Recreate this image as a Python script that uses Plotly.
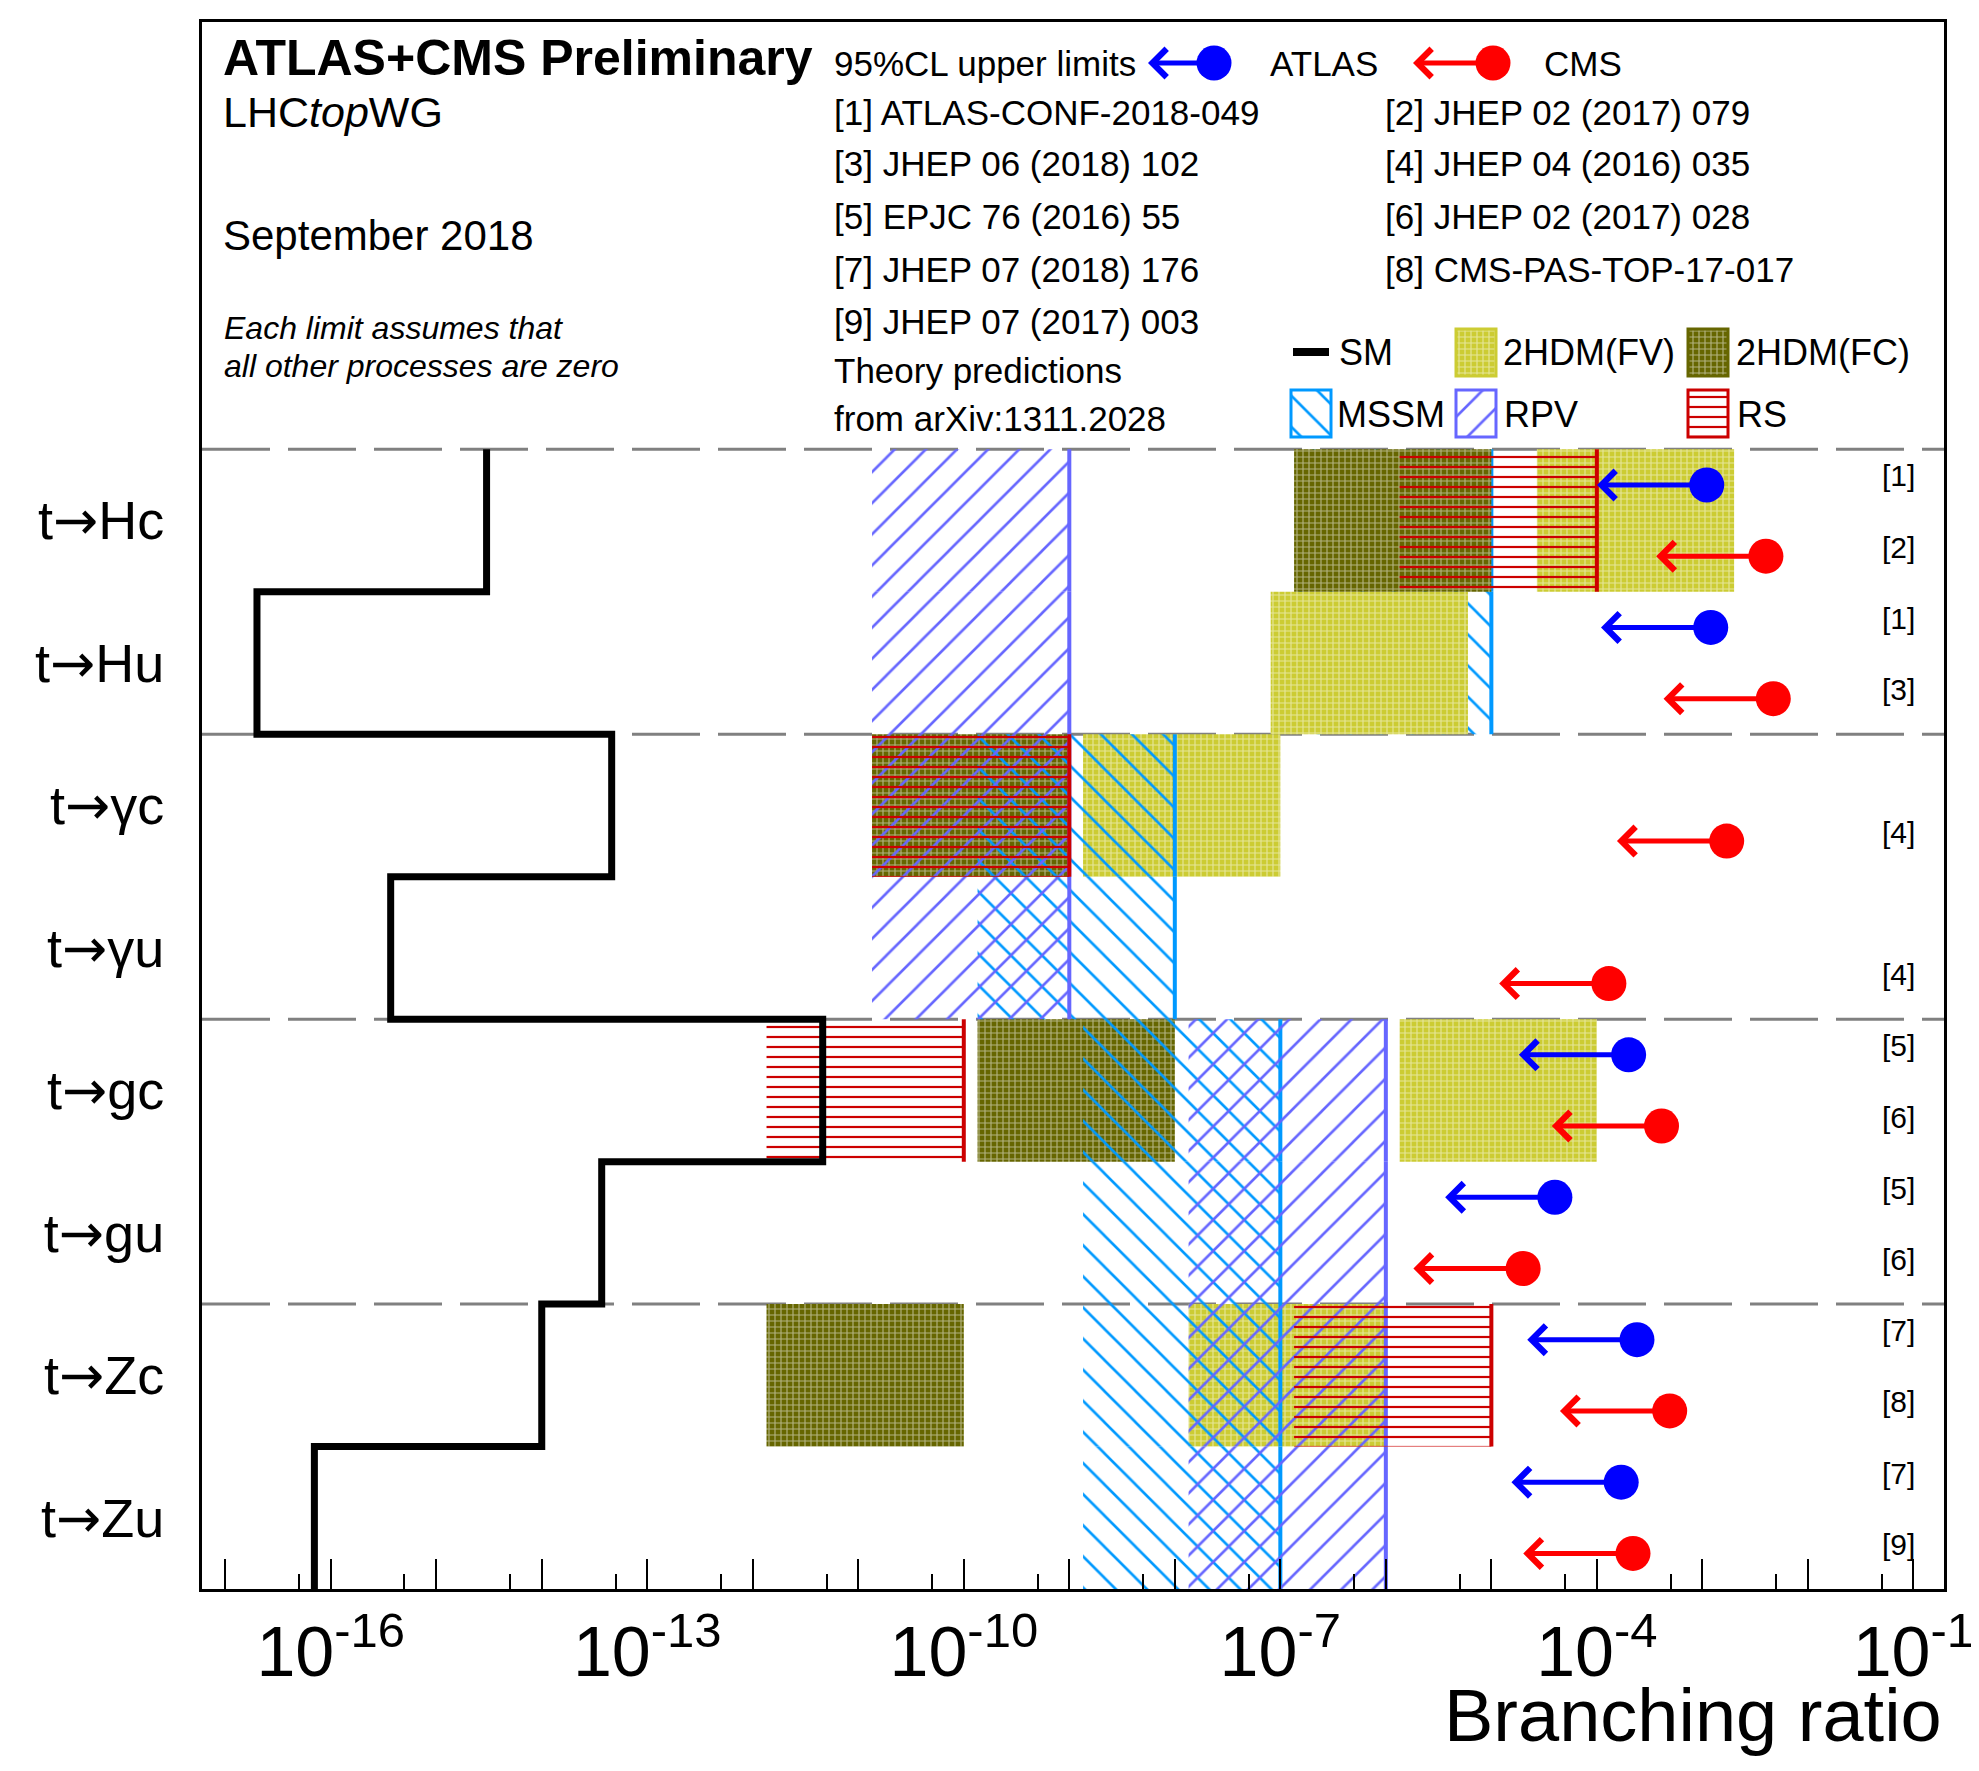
import plotly.graph_objects as go
import math

# ---------------- data ----------------
processes = ["t→Hc", "t→Hu", "t→γc", "t→γu", "t→gc", "t→gu", "t→Zc", "t→Zu"]
sm_values = [3e-15, 2e-17, 4.6e-14, 3.7e-16, 4.6e-12, 3.7e-14, 1e-14, 7e-17]

fv_proc = ["t→Hc", "t→Hu", "t→γc", "t→gc", "t→Zc"]
fv_low = [2.7e-5, 8.1e-8, 1.35e-9, 1.35e-6, 1.35e-8]
fv_high = [2e-3, 6e-6, 1e-7, 1e-4, 1e-6]

fc_proc = ["t→Hc", "t→γc", "t→gc", "t→Zc"]
fc_low = [1.35e-7, 1.35e-11, 1.35e-10, 1.35e-12]
fc_high = [1e-5, 1e-9, 1e-8, 1e-10]

mssm_proc = ["t→Hc", "t→Hu", "t→γc", "t→γu", "t→gc", "t→gu", "t→Zc", "t→Zu"]
mssm_low = [1.35e-7, 1.35e-7, 1.35e-10, 1.35e-10, 1.35e-9, 1.35e-9, 1.35e-9, 1.35e-9]
mssm_high = [1e-5, 1e-5, 1e-8, 1e-8, 1e-7, 1e-7, 1e-7, 1e-7]

rpv_proc = ["t→Hc", "t→Hu", "t→γc", "t→γu", "t→gc", "t→gu", "t→Zc", "t→Zu"]
rpv_low = [1.35e-11, 1.35e-11, 1.35e-11, 1.35e-11, 1.35e-8, 1.35e-8, 1.35e-8, 1.35e-8]
rpv_high = [1e-9, 1e-9, 1e-9, 1e-9, 1e-6, 1e-6, 1e-6, 1e-6]

rs_proc = ["t→Hc", "t→γc", "t→gc", "t→Zc"]
rs_low = [1.35e-6, 1.35e-11, 1.35e-12, 1.35e-7]
rs_high = [1e-4, 1e-9, 1e-10, 1e-5]

atlas_proc = ["t→Hc", "t→Hu", "t→gc", "t→gu", "t→Zc", "t→Zu"]
atlas_limit = [1.1e-3, 1.2e-3, 2.0e-4, 4.0e-5, 2.4e-4, 1.7e-4]
atlas_ref = ["[1]", "[1]", "[5]", "[5]", "[7]", "[7]"]

cms_proc = ["t→Hc", "t→Hu", "t→γc", "t→γu", "t→gc", "t→gu", "t→Zc", "t→Zu"]
cms_limit = [4.0e-3, 4.7e-3, 1.7e-3, 1.3e-4, 4.1e-4, 2.0e-5, 4.9e-4, 2.2e-4]
cms_ref = ["[2]", "[3]", "[4]", "[4]", "[6]", "[6]", "[8]", "[9]"]

references = [
    "[1] ATLAS-CONF-2018-049", "[2] JHEP 02 (2017) 079",
    "[3] JHEP 06 (2018) 102", "[4] JHEP 04 (2016) 035",
    "[5] EPJC 76 (2016) 55", "[6] JHEP 02 (2017) 028",
    "[7] JHEP 07 (2018) 176", "[8] CMS-PAS-TOP-17-017",
    "[9] JHEP 07 (2017) 003",
]

# ---------------- geometry / style ----------------
W, H = 1979, 1771
L, R, T, B = 202, 1944, 22, 1589      # plot frame on the page
OFF = 8                               # default page body margin
XR = [-17.22, -0.71]
YR = [0, 11]
FONT = "Liberation Sans, Arial, Helvetica, sans-serif"

YELLOW = "rgb(204,204,51)"
OLIVE = "rgb(102,102,0)"
BLUE_M = "rgb(0,153,255)"
PURPLE = "rgb(102,102,255)"
RSRED = "rgb(204,0,0)"
CLEAR = "rgba(0,0,0,0)"

nproc = len(processes)
ycen = {p: nproc - 0.5 - i for i, p in enumerate(processes)}


def lg(xa):  # page pixel x -> log10 axis value
    return XR[0] + (xa - L) / (R - L) * (XR[1] - XR[0])


def dx(xa):
    return 10 ** lg(xa)


def dy(ya):
    return YR[0] + (B - ya) / (B - T) * (YR[1] - YR[0])


def px(xa):
    return (xa - L) / (R - L)


def py(ya):
    return (B - ya) / (B - T)


styles = {
    "2HDM(FV)": dict(color=YELLOW, pattern=dict(shape="+", fgcolor="white", bgcolor=YELLOW,
                                               size=6, solidity=0.34, fillmode="overlay")),
    "2HDM(FC)": dict(color=OLIVE, pattern=dict(shape="+", fgcolor="white", bgcolor=OLIVE,
                                              size=6, solidity=0.34, fillmode="overlay")),
    "MSSM": dict(color=CLEAR, pattern=dict(shape="\\", fgcolor=BLUE_M, bgcolor=CLEAR,
                                          size=22, solidity=0.12, fillmode="replace")),
    "RPV": dict(color=CLEAR, pattern=dict(shape="/", fgcolor=PURPLE, bgcolor=CLEAR,
                                         size=22, solidity=0.12, fillmode="replace")),
    "RS": dict(color=CLEAR, pattern=dict(shape="-", fgcolor=RSRED, bgcolor=CLEAR,
                                        size=10, solidity=0.22, fillmode="replace")),
}
edge_colors = {"MSSM": BLUE_M, "RPV": PURPLE, "RS": RSRED}

fig = go.Figure()


def add_boxes(model, procs, lows, highs):
    ys = [ycen[p] for p in procs]
    fig.add_trace(go.Bar(
        orientation="h", y=ys, base=lows, x=[h - l for h, l in zip(highs, lows)],
        width=1, marker=dict(line=dict(width=0), **styles[model]),
        showlegend=False, hoverinfo="skip"))
    if model in edge_colors:
        e = 10 ** 0.019
        fig.add_trace(go.Bar(
            orientation="h", y=ys, base=[h / e for h in highs],
            x=[h * e - h / e for h in highs], width=1,
            marker=dict(color=edge_colors[model], line=dict(width=0)),
            showlegend=False, hoverinfo="skip"))


def subset(procs, lows, highs, keep):
    out = [(p, l, h) for p, l, h in zip(procs, lows, highs) if p in keep]
    return [o[0] for o in out], [o[1] for o in out], [o[2] for o in out]


higgs = {"t→Hc", "t→Hu"}
others = set(processes) - higgs

add_boxes("MSSM", *subset(mssm_proc, mssm_low, mssm_high, higgs))
add_boxes("2HDM(FV)", fv_proc, fv_low, fv_high)
add_boxes("2HDM(FC)", fc_proc, fc_low, fc_high)
add_boxes("MSSM", *subset(mssm_proc, mssm_low, mssm_high, others))
add_boxes("RPV", rpv_proc, rpv_low, rpv_high)
add_boxes("RS", rs_proc, rs_low, rs_high)

# legend swatches in header (bars)
sw_row1 = (329, 376)
sw_row2 = (390, 437)
swatches = [("2HDM(FV)", 1456, 1496, sw_row1, YELLOW), ("2HDM(FC)", 1688, 1728, sw_row1, OLIVE),
            ("MSSM", 1291, 1331, sw_row2, BLUE_M), ("RPV", 1456, 1496, sw_row2, PURPLE),
            ("RS", 1688, 1728, sw_row2, RSRED)]
for model, x0, x1, (y0, y1), col in swatches:
    fig.add_trace(go.Bar(
        orientation="h", y=[(dy(y0) + dy(y1)) / 2], base=[dx(x0)], x=[dx(x1) - dx(x0)],
        width=dy(y0) - dy(y1), marker=dict(line=dict(width=3, color=col), **styles[model]),
        showlegend=False, hoverinfo="skip"))

# SM step line
sx, sy = [], []
for p, v in zip(processes, sm_values):
    sx += [v, v]
    sy += [ycen[p] + 0.5, ycen[p] - 0.5]
fig.add_trace(go.Scatter(x=sx, y=sy, mode="lines", line=dict(color="black", width=7),
                         showlegend=False, hoverinfo="skip"))
# SM legend line
fig.add_trace(go.Scatter(x=[dx(1293), dx(1329)], y=[dy(352), dy(352)], mode="lines",
                         line=dict(color="black", width=8), showlegend=False, hoverinfo="skip"))

ARROW_DEC = 1.04
annotations = []
ARW = dict(showarrow=True, arrowhead=4, arrowsize=1.1, arrowwidth=5, standoff=0, text="")


def add_limits(procs, limits, refs, offset, color):
    ys = [ycen[p] + offset for p in procs]
    fig.add_trace(go.Scatter(x=limits, y=ys, mode="markers",
                             marker=dict(color=color, size=35, line=dict(width=0)),
                             showlegend=False, hoverinfo="skip"))
    for y, v, r in zip(ys, limits, refs):
        lv = math.log10(v)
        annotations.append(dict(x=lv - ARROW_DEC, y=y, ax=lv, ay=y, xref="x", yref="y",
                                axref="x", ayref="y", arrowcolor=color, **ARW))
        annotations.append(dict(x=px(1898), y=y, xref="paper", yref="y", text=r,
                                showarrow=False, xanchor="center", yanchor="middle", yshift=9,
                                font=dict(size=30, color="black", family=FONT)))


add_limits(atlas_proc, atlas_limit, atlas_ref, 0.25, "rgb(0,0,255)")
add_limits(cms_proc, cms_limit, cms_ref, -0.25, "rgb(255,0,0)")

# header legend markers (ATLAS / CMS)
fig.add_trace(go.Scatter(x=[dx(1214), dx(1493)], y=[dy(63), dy(63)], mode="markers",
                         marker=dict(color=["rgb(0,0,255)", "rgb(255,0,0)"], size=35),
                         showlegend=False, hoverinfo="skip"))
for tip, tail, col in [(1148, 1214, "rgb(0,0,255)"), (1413, 1493, "rgb(255,0,0)")]:
    annotations.append(dict(x=lg(tip), y=dy(63), ax=lg(tail), ay=dy(63), xref="x", yref="y",
                            axref="x", ayref="y", arrowcolor=col, **ARW))

# header texts
hdr = [
    ("<b>ATLAS+CMS Preliminary</b>", 221, 58, 50),
    ("LHC<i>top</i>WG", 221, 112, 43),
    ("September 2018", 221, 236, 42),
    ("<i>Each limit assumes that</i>", 222, 328, 32),
    ("<i>all other processes are zero</i>", 222, 366, 32),
    ("95%CL upper limits", 832, 63, 35),
    ("ATLAS", 1268, 63, 35),
    ("CMS", 1542, 63, 35),
    ("Theory predictions", 832, 371, 35),
    ("from arXiv:1311.2028", 832, 418, 35),
    ("SM", 1337, 352, 36),
    ("2HDM(FV)", 1501, 352, 36),
    ("2HDM(FC)", 1734, 352, 36),
    ("MSSM", 1335, 414, 36),
    ("RPV", 1502, 414, 36),
    ("RS", 1735, 414, 36),
]
ref_rows = [112, 164, 216, 269, 322]
for i, r in enumerate(references):
    hdr.append((r, 832 if i % 2 == 0 else 1383, ref_rows[i // 2], 35))
for text, xa, ya, fs in hdr:
    annotations.append(dict(x=px(xa), y=py(ya), xref="paper", yref="paper", text=text,
                            showarrow=False, xanchor="left", yanchor="middle",
                            font=dict(size=fs, color="black", family=FONT)))

annotations.append(dict(x=1.0, y=py(1715), xref="paper", yref="paper", text="Branching ratio",
                        showarrow=False, xanchor="right", yanchor="middle",
                        font=dict(size=74, color="black", family=FONT)))

# dashed separators
shapes = []
for yv in [2, 4, 6, 8]:
    shapes.append(dict(type="line", xref="paper", x0=0, x1=1, yref="y", y0=yv, y1=yv,
                       line=dict(color="rgb(128,128,128)", width=3, dash="68px,18px"),
                       layer="below"))

major = [10.0 ** k for k in range(-17, 0)]
major_txt = [("10<sup>-%d</sup>" % (-k)) if (k + 16) % 3 == 0 else "" for k in range(-17, 0)]
minor = [5 * 10.0 ** k for k in range(-18, 0)]

ARROW_SPAN = '<span style="font-family:DejaVu Sans">→</span>'
row_labels = [p.replace("→", ARROW_SPAN) for p in processes]

fig.update_layout(
    width=W, height=H,
    margin=dict(l=L - OFF, r=W - (R - OFF), t=T - OFF, b=H - (B - OFF)),
    paper_bgcolor="white", plot_bgcolor="white",
    barmode="overlay",
    showlegend=False,
    annotations=annotations,
    shapes=shapes,
    font=dict(family=FONT, color="black"),
    xaxis=dict(type="log", range=XR, tickmode="array", tickvals=major, ticktext=major_txt,
               ticks="inside", ticklen=30, tickwidth=2, tickcolor="black",
               showline=True, linewidth=3, linecolor="black", mirror=True,
               showgrid=False, zeroline=False, tickfont=dict(size=70, family=FONT),
               ticklabelstandoff=0,
               minor=dict(tickmode="array", tickvals=minor, ticks="inside", ticklen=15,
                          tickwidth=2, tickcolor="black", showgrid=False)),
    yaxis=dict(range=YR, tickmode="array", tickvals=[ycen[p] for p in processes],
               ticktext=row_labels, ticks="", showline=True, linewidth=3, linecolor="black",
               mirror=True, showgrid=False, zeroline=False,
               tickfont=dict(size=54, family=FONT), ticklabelstandoff=24),
)

fig.write_html("out.html")
